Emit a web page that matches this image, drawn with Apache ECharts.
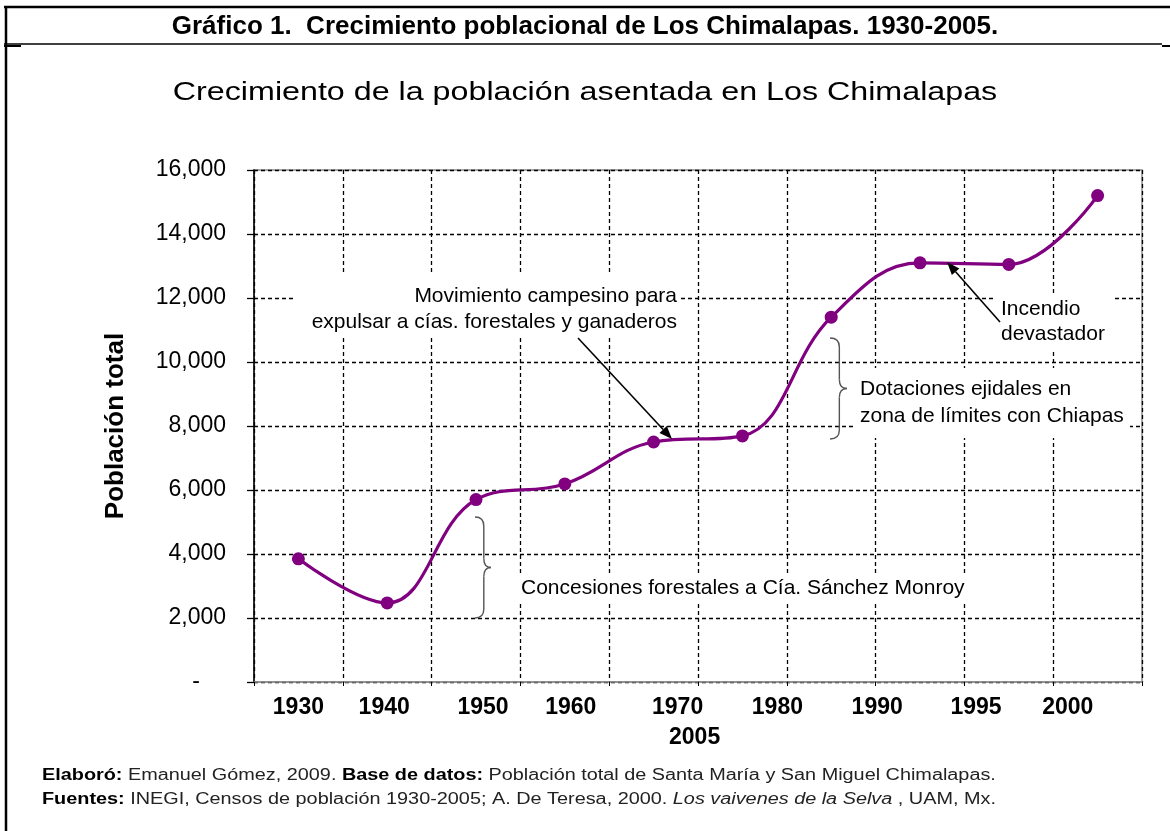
<!DOCTYPE html>
<html><head><meta charset="utf-8">
<script src="https://cdn.jsdelivr.net/npm/echarts@6/dist/echarts.min.js"></script>
<style>html,body{margin:0;padding:0;background:#fff}#c{width:1170px;height:831px}</style>
</head><body><div id="c"></div>
<script>
// ---- data ----
const years = ['1930','1940','1950','1960','1970','1980','1990','1995','2000','2005'];
const population = [3850, 2470, 5700, 6190, 7500, 7690, 11400, 13100, 13050, 15200];
const yMin = 0, yMax = 16000, yStep = 2000;
const headerText = 'Gráfico 1.  Crecimiento poblacional de Los Chimalapas. 1930-2005.';
const titleText = 'Crecimiento de la población asentada en Los Chimalapas';
const yName = 'Población total';
const notes = {
  mov: 'Movimiento campesino para\nexpulsar a cías. forestales y ganaderos',
  inc: 'Incendio\ndevastador',
  dot: 'Dotaciones ejidales en\nzona de límites con Chiapas',
  con: 'Concesiones forestales a Cía. Sánchez Monroy'
};

// ---- style / layout ----
const SANS = '"Liberation Sans", Arial, sans-serif';
// horizontal nudges of the category labels (reference places them as a loose text line)
const labelShift = [0, -3, 7, 6, 24, 35, 46, 56, 59, -403];
const rich = {};
labelShift.forEach((d, i) => {
  rich['l' + i] = { fontFamily: SANS, fontWeight: 'bold', fontSize: 23, color: '#000', lineHeight: 26,
    padding: d >= 0 ? [0, 0, 0, 2 * d] : [0, -2 * d, 0, 0] };
});
rich.gap = { fontSize: 10, lineHeight: 30 };

function arrow(x1, y1, x2, y2) {
  const a = Math.atan2(y2 - y1, x2 - x1), L = 13, W = 5;
  const bx = x2 - L * Math.cos(a), by = y2 - L * Math.sin(a);
  return [
    { type: 'line', z: 20, shape: { x1, y1, x2: bx, y2: by }, style: { stroke: '#000', lineWidth: 1.6 } },
    { type: 'polygon', z: 20, shape: { points: [[x2, y2], [bx + W * Math.sin(a), by - W * Math.cos(a)], [bx - W * Math.sin(a), by + W * Math.cos(a)]] }, style: { fill: '#000' } }
  ];
}
function brace(x0, y0, y1, depth) {
  const xm = x0 + depth * 0.55, xt = x0 + depth, ym = (y0 + y1) / 2, r = 9;
  const st = { stroke: '#555', lineWidth: 1.4, fill: null };
  const q = (ax, ay, cx, cy, bx, by) => ({ type: 'bezierCurve', z: 20, shape: { x1: ax, y1: ay, cpx1: cx, cpy1: cy, x2: bx, y2: by }, style: st });
  const l = (ax, ay, bx, by) => ({ type: 'line', z: 20, shape: { x1: ax, y1: ay, x2: bx, y2: by }, style: st });
  return [
    q(x0, y0, xm, y0, xm, y0 + r), l(xm, y0 + r, xm, ym - r), q(xm, ym - r, xm, ym, xt, ym),
    q(xt, ym, xm, ym, xm, ym + r), l(xm, ym + r, xm, y1 - r), q(xm, y1 - r, xm, y1, x0, y1)
  ];
}
function box(x, y, w, h) { return { type: 'rect', z: 10, shape: { x, y, width: w, height: h }, style: { fill: '#fff' } }; }
function note(x, y, text, align, lh) {
  return { type: 'text', z: 11, x, y, style: { text, fill: '#000', font: '21px ' + SANS, align, verticalAlign: 'middle', lineHeight: lh } };
}

const chart = echarts.init(document.getElementById('c'), null, { renderer: 'canvas' });
const option = {
  animation: false,
  backgroundColor: '#fff',
  grid: { left: 254, right: 28, top: 170, bottom: 149, outerBoundsMode: 'none', containLabel: false,
    show: true, borderColor: '#8c8c8c', borderWidth: 1.5 },
  xAxis: {
    type: 'category', data: years, boundaryGap: true,
    axisLine: { lineStyle: { color: '#8c8c8c', width: 1.5 } },
    axisTick: { show: true, length: 4, interval: 0, lineStyle: { color: '#000' } },
    axisLabel: { interval: 0, hideOverlap: false, margin: 13, verticalAlign: 'top',
      formatter: (v, i) => i === years.length - 1 ? `{gap| }\n{l${i}|${v}}` : `{l${i}|${v}}`, rich },
    splitLine: { show: true, interval: 0, lineStyle: { color: '#000', width: 1.3, type: [4, 3] } }
  },
  yAxis: {
    type: 'value', min: yMin, max: yMax, interval: yStep,
    name: yName, nameLocation: 'middle', nameGap: 125, nameRotate: 90,
    nameTextStyle: { fontFamily: SANS, fontWeight: 'bold', fontSize: 26, color: '#000' },
    axisLine: { show: true, lineStyle: { color: '#000', width: 1.5 } },
    axisTick: { show: true, length: 7, lineStyle: { color: '#000', width: 1.3 } },
    axisLabel: { margin: 28, fontFamily: SANS, fontSize: 23, color: '#000',
      formatter: v => v === 0 ? '{d|-}' : v.toLocaleString('en-US'),
      rich: { d: { fontFamily: SANS, fontSize: 23, color: '#000', padding: [0, 26, 0, 0] } } },
    splitLine: { show: true, lineStyle: { color: '#000', width: 1.3, type: [4, 3] } }
  },
  series: [{
    type: 'line', data: population, smooth: 0.4, z: 5,
    symbol: 'circle', symbolSize: 13,
    lineStyle: { color: '#800080', width: 3.2 },
    itemStyle: { color: '#800080' }
  }],
  graphic: [
    // frame
    { type: 'line', z: 30, shape: { x1: 4, y1: 7, x2: 1170, y2: 7 }, style: { stroke: '#000', lineWidth: 2.5 } },
    { type: 'line', z: 30, shape: { x1: 6, y1: 6, x2: 6, y2: 831 }, style: { stroke: '#000', lineWidth: 2.5 } },
    { type: 'line', z: 30, shape: { x1: 4, y1: 44, x2: 1162, y2: 44 }, style: { stroke: '#000', lineWidth: 1.6 } },
    { type: 'line', z: 30, shape: { x1: 1162, y1: 46, x2: 1170, y2: 46 }, style: { stroke: '#000', lineWidth: 2 } },
    { type: 'line', z: 30, shape: { x1: 4, y1: 46, x2: 21, y2: 46 }, style: { stroke: '#000', lineWidth: 2 } },
    // header & title
    { type: 'text', z: 30, x: 585, y: 27, style: { text: headerText, fill: '#000', font: 'bold 26px ' + SANS, align: 'center', verticalAlign: 'middle' } },
    { type: 'text', z: 30, x: 585, y: 93, scaleX: 1.24, style: { text: titleText, fill: '#000', font: '26px ' + SANS, align: 'center', verticalAlign: 'middle' } },
    // annotations
    box(295, 273, 385, 65), note(677, 309, notes.mov, 'right', 26),
    box(993, 293, 120, 57), note(1001, 322, notes.inc, 'left', 25),
    box(855, 368, 275, 70), note(860, 403, notes.dot, 'left', 27),
    box(517, 573, 462, 30), note(521, 588, notes.con, 'left', 24),
    ...arrow(578, 338, 672, 439),
    ...arrow(1000, 322, 947, 262),
    ...brace(475, 517, 618, 16),
    ...brace(830, 338, 439, 17),
    // footer
    { type: 'text', z: 30, x: 42, y: 788, scaleX: 1.24, style: {
      text: '{b|Elaboró:} Emanuel Gómez, 2009. {b|Base de datos:} Población total de Santa María y San Miguel Chimalapas.\n{b|Fuentes:} INEGI, Censos de población 1930-2005; A. De Teresa, 2000. {i|Los vaivenes de la Selva} , UAM, Mx.',
      font: '16px ' + SANS, fill: '#222', align: 'left', verticalAlign: 'middle', lineHeight: 24,
      rich: { b: { font: 'bold 16px ' + SANS, fill: '#000' }, i: { font: 'italic 16px ' + SANS, fill: '#222' } } } }
  ]
};
chart.setOption(option);
</script></body></html>
